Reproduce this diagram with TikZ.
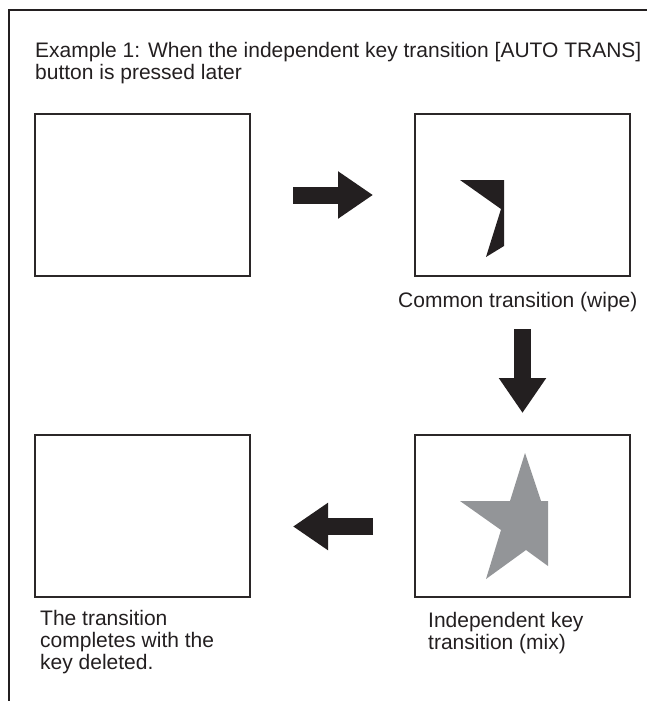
\documentclass[tikz,border=0pt]{standalone}
\usepackage{fontspec}
\setmainfont{Liberation Sans}
\usepackage{xcolor}
\usepackage{tikz}
\usetikzlibrary{calc,positioning,arrows.meta}
\definecolor{FrameInk}{HTML}{231F20}
\definecolor{ScreenEdge}{HTML}{2B2728}
\definecolor{KeyGrey}{HTML}{939598}

\begin{document}
\begin{tikzpicture}[x=1pt,y=1pt,
    screen/.style={draw=ScreenEdge, line width=2pt, minimum width=215pt,
        minimum height=162pt, inner sep=0pt, outer sep=0pt},
    caption/.style={inner sep=0pt, align=left, text=FrameInk,
        font=\fontsize{21}{22}\selectfont},
    bigarrow/.style={draw=FrameInk, line width=17pt,
        -{Triangle[length=35pt,width=45pt]}}]
        \useasboundingbox (0,0) rectangle (647,-701);
        % open frame
        \coordinate (fTop) at (647,-10);
        \coordinate (fCorner) at (9,-10);
        \coordinate (fBot) at (9,-701);
        \draw[FrameInk, line width=1.8pt] (fTop) -- (fCorner) -- (fBot);

        \node[caption, anchor=north west] (title) at (35,-42)
            {Example 1: When the independent key transition [AUTO TRANS]\\button is pressed later};

        % the four screens
        \node[screen] (sc1) at (142.5,-195) {};
        \node[screen, right=165pt of sc1] (sc2) {};
        \node[screen, below=159pt of sc2] (sc4) {};
        \node[screen, left=165pt of sc4] (sc3) {};

        % wipe edge of the key
        \begin{scope}[shift={(sc2.center)}]
            \fill[FrameInk] (-62.5,15) -- (-18.5,15) -- (-18.5,-51)
                -- (-36.5,-62) -- (-21.5,-14) -- cycle;
        \end{scope}
        % key, mixed in
        \begin{scope}[shift={(sc4.center)}]
            \fill[KeyGrey] (-62.5,15) -- (-12.5,15) -- (2.5,63) -- (18.5,15)
                -- (25.5,15) -- (25.5,-50) -- (3.5,-34) -- (-36.5,-63)
                -- (-21.5,-14) -- cycle;
        \end{scope}

        \node[caption, below right=16pt and -17pt of sc2.south west] (cap2)
            {Common transition (wipe)};
        \node[caption, below right=15pt and 13pt of sc4.south west] (cap4)
            {Independent key\\transition (mix)};
        \node[caption, below right=13pt and 5pt of sc3.south west] (cap3)
            {The transition\\completes with the\\key deleted.};

        \draw[bigarrow] ([xshift=43pt]sc1.east) -- ([xshift=-42pt]sc2.west);
        \draw[bigarrow] ([yshift=-53pt]sc2.south) -- ([yshift=22pt]sc4.north);
        \draw[bigarrow] ([xshift=-42pt,yshift=-10.5pt]sc4.west)
            -- ([xshift=43pt,yshift=-10.5pt]sc3.east);
    \end{tikzpicture}
\end{document}
